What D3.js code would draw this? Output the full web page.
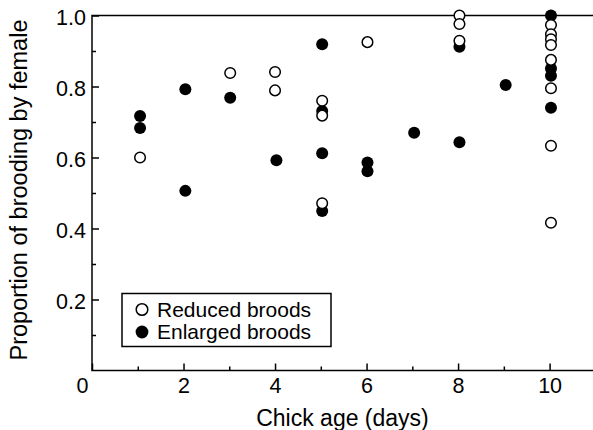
<!DOCTYPE html>
<html>
<head>
<meta charset="utf-8">
<script src="https://cdn.jsdelivr.net/npm/d3@7"></script>
<style>
  body { margin: 0; background: #fff; }
  svg { display: block; font-family: "Liberation Sans", Arial, Helvetica, sans-serif; }
</style>
</head>
<body>
<svg></svg>
<script>
const width = 593;
const height = 430;

// Reduced broods (open circles)
const reducedAge = [1.05, 3.02, 4.0, 4.0, 5.03, 5.03, 5.03, 6.02, 8.03, 8.03, 8.03,
    10.03, 10.03, 10.03, 10.03, 10.03, 10.03, 10.03, 10.03];
const reducedProp = [0.60, 0.838, 0.841, 0.789, 0.760, 0.718, 0.471, 0.925, 1.0, 0.976, 0.929,
    0.973, 0.947, 0.933, 0.917, 0.875, 0.795, 0.633, 0.416];

// Enlarged broods (filled circles)
const enlargedAge = [1.05, 1.05, 2.04, 2.04, 3.02, 4.03, 5.03, 5.03, 5.03, 5.03, 6.02, 6.02,
    7.04, 8.03, 8.03, 9.04, 10.03, 10.03, 10.03, 10.03];
const enlargedProp = [0.717, 0.683, 0.792, 0.506, 0.768, 0.592, 0.919, 0.731, 0.612, 0.449, 0.586, 0.561,
    0.670, 0.912, 0.643, 0.804, 1.0, 0.851, 0.830, 0.740];

const xMajor = [0, 2, 4, 6, 8, 10];
const xMinor = [1, 3, 5, 7, 9];
const yMajor = [0.2, 0.4, 0.6, 0.8, 1.0];
const yMinor = [0.1, 0.3, 0.5, 0.7, 0.9];
const legendLabels = ["Reduced broods", "Enlarged broods"];

const marginLeft = 92, marginTop = 15.5, axisBottomY = 370.5;

let svg = d3.select("svg")
    .attr("width", width)
    .attr("height", height);

let scaleX = d3.scaleLinear().domain([0, 11]).range([marginLeft, marginLeft + 11 * 45.76]);
let scaleY = d3.scaleLinear().domain([0, 1]).range([axisBottomY, marginTop]);

// frame lines: top, left, bottom
svg.append("path")
    .attr("d", `M${scaleX(11)},${marginTop}H${marginLeft}V${axisBottomY}H${scaleX(11)}`)
    .attr("fill", "none")
    .attr("stroke", "#000")
    .attr("stroke-width", 1.5);

// x axis, ticks pointing in
let gx = svg.append("g")
    .attr("transform", `translate(0, ${axisBottomY})`)
    .call(d3.axisBottom(scaleX).tickValues(xMajor).tickSize(-7).tickPadding(7.5).tickFormat(d3.format("d")));
svg.append("g")
    .attr("transform", `translate(0, ${axisBottomY})`)
    .call(d3.axisBottom(scaleX).tickValues(xMinor).tickSize(-4).tickFormat(""));

// y axis
let gy = svg.append("g")
    .attr("transform", `translate(${marginLeft}, 0)`)
    .call(d3.axisLeft(scaleY).tickValues(yMajor).tickSize(-7).tickPadding(6).tickFormat(d3.format(".1f")));
svg.append("g")
    .attr("transform", `translate(${marginLeft}, 0)`)
    .call(d3.axisLeft(scaleY).tickValues(yMinor).tickSize(-4).tickFormat(""));

svg.selectAll(".domain").remove();
svg.selectAll(".tick line").attr("stroke", "#000").attr("stroke-width", 1.5);
svg.selectAll(".tick text").attr("fill", "#000").style("font-size", "21.5px");
svg.selectAll("g").attr("font-family", null).attr("font-size", null);
gy.selectAll(".tick text").attr("dy", "0.42em");
// the origin "0" sits a little left of the corner
gx.selectAll(".tick text").filter(d => d === 0).attr("dx", -10);

// points: enlarged first, reduced on top with white fill
svg.append("g").selectAll("circle")
    .data(enlargedAge.map((a, i) => ({x: a, y: enlargedProp[i]})))
    .enter()
    .append("circle")
    .attr("cx", d => scaleX(d.x))
    .attr("cy", d => scaleY(d.y))
    .attr("r", 6)
    .attr("fill", "#000");

svg.append("g").selectAll("circle")
    .data(reducedAge.map((a, i) => ({x: a, y: reducedProp[i]})))
    .enter()
    .append("circle")
    .attr("cx", d => scaleX(d.x))
    .attr("cy", d => scaleY(d.y))
    .attr("r", 5.3)
    .attr("fill", "#fff")
    .attr("stroke", "#000")
    .attr("stroke-width", 1.5);

// axis titles
svg.append("text")
    .attr("x", 342.5)
    .attr("y", 425.5)
    .attr("text-anchor", "middle")
    .style("font-size", "23px")
    .text("Chick age (days)");

svg.append("text")
    .attr("transform", "translate(27, 190) rotate(-90)")
    .attr("text-anchor", "middle")
    .style("font-size", "23.5px")
    .text("Proportion of brooding by female");

// legend
let legend = svg.append("g");
legend.append("rect")
    .attr("x", 122).attr("y", 293.5)
    .attr("width", 209).attr("height", 53)
    .attr("fill", "#fff")
    .attr("stroke", "#000")
    .attr("stroke-width", 1.5);

legend.selectAll("circle")
    .data(legendLabels)
    .enter()
    .append("circle")
    .attr("cx", 142)
    .attr("cy", (d, i) => 309.5 + i * 22.5)
    .attr("r", (d, i) => i === 0 ? 5.8 : 6.4)
    .attr("fill", (d, i) => i === 0 ? "#fff" : "#000")
    .attr("stroke", "#000")
    .attr("stroke-width", (d, i) => i === 0 ? 1.5 : 0);

legend.selectAll("text")
    .data(legendLabels)
    .enter()
    .append("text")
    .attr("x", 157)
    .attr("y", (d, i) => 316.5 + i * 22.5)
    .style("font-size", "21px")
    .text(d => d);
</script>
</body>
</html>
